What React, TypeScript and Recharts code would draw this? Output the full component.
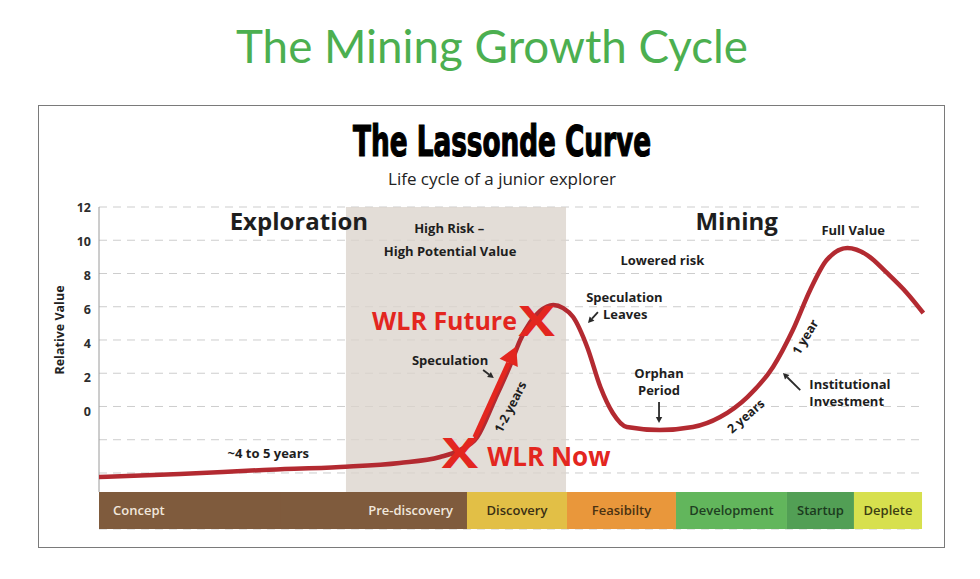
import React from 'react';
import {
  ComposedChart,
  Line,
  XAxis,
  YAxis,
  CartesianGrid,
  ReferenceArea,
  ReferenceLine,
  ReferenceDot,
} from 'recharts';

// ---------- data ----------
const curveTime = [0, 9.8, 19.9, 29.2, 36.4, 41.3, 43.7, 45.8, 47.9, 49.8, 51.0, 53.4, 55.0, 56.2, 57.4, 59.1, 60.7, 62.2, 63.9, 67.9, 71.9, 75.2, 78.5, 81.6, 84.0, 86.1, 88.1, 90.6, 93.0, 95.4, 97.8, 99.8];
const curveValue = [-4.24, -4.06, -3.82, -3.64, -3.4, -3.04, -2.62, -1.83, 0.39, 2.5, 4.0, 5.74, 6.11, 5.92, 5.38, 3.58, 1.17, -0.39, -1.23, -1.41, -1.23, -0.63, 0.57, 2.38, 4.6, 7.01, 8.81, 9.53, 9.11, 8.03, 6.83, 5.62];

const yTicks = [-4, -2, 0, 2, 4, 6, 8, 10, 12];
const yLabelled = [0, 2, 4, 6, 8, 10, 12];
const yDomain = [-7.37, 12];
const xDomain = [0, 100];

const phaseNames = ['Concept', 'Pre-discovery', 'Discovery', 'Feasibilty', 'Development', 'Startup', 'Deplete'];
const phaseStart = [0, 22, 44.55, 56.66, 69.85, 83.29, 91.4];
const phaseEnd = [44.55, 44.55, 56.66, 69.85, 83.29, 91.4, 99.64];
const phaseBandTop = -5.14;

const shadeStart = 29.9;
const shadeEnd = 56.54;

const headingTexts = ['Exploration', 'Mining'];
const headingX = [24.2, 77.2];
const headingY = [11.16, 11.16];

const noteTexts = ['High Risk –', 'High Potential Value', 'Full Value', 'Lowered risk', 'Speculation', 'Leaves', 'Speculation', 'Orphan', 'Period', '~4 to 5 years'];
const noteX = [42.4, 42.5, 91.3, 68.2, 63.6, 63.7, 42.5, 67.8, 67.8, 20.5];
const noteY = [10.74, 9.35, 10.62, 8.81, 6.58, 5.56, 2.79, 2.01, 0.99, -2.8];

const leftNoteTexts = ['Institutional', 'Investment'];
const leftNoteX = [86.0, 86.0];
const leftNoteY = [1.35, 0.33];

const durationTexts = ['1-2 years', '2 years', '1 year'];
const durationX = [49.8, 78.3, 85.5];
const durationY = [-0.03, -0.58, 4.18];
const durationAngle = [-63, -41, -59];

const arrowFromX = [60.4, 46.5, 67.8, 84.9];
const arrowFromY = [5.68, 2.19, 0.27, 0.99];
const arrowToX = [59.2, 47.8, 67.8, 82.8];
const arrowToY = [5.02, 1.71, -1.0, 2.01];

const wlrArrowFrom = { x: 45.5, y: -1.86 };
const wlrArrowTo = { x: 50.5, y: 3.61 };

const markerX = [43.7, 53.0];
const markerY = [-2.74, 5.2];
const wlrTexts = ['WLR Now', 'WLR Future'];
const wlrX = [47.0, 50.6];
const wlrY = [-2.98, 5.2];
const wlrAnchor = ['start', 'end'];

// ---------- styles ----------
const phaseFill = ['#7f5b3d', '#7f5b3d', '#e2bf46', '#e9973b', '#62b65c', '#529f55', '#d7e04e'];
const phaseText = ['#f1e7dc', '#f1e7dc', '#3a2f14', '#4a3212', '#1f3f22', '#1b3a1e', '#3c3d12'];
const phasePos: any[] = ['insideLeft', 'insideRight', 'center', 'center', 'center', 'center', 'center'];
const RED = '#e3261f';
const CURVE = '#b32a31';
const FONT = "'Open Sans', 'DejaVu Sans', sans-serif";

const curveData = curveTime.map((t, i) => ({ x: t, y: curveValue[i] }));

const makeText =
  (text: string, opts: any) =>
  (p: any) => {
    let transform: string | undefined;
    if (opts.rotate) transform = `rotate(${opts.rotate} ${p.cx} ${p.cy})`;
    if (opts.stretch) transform = `translate(${p.cx} ${p.cy}) scale(${opts.stretch} 1) translate(${-p.cx} ${-p.cy})`;
    return (
      <text
        x={p.cx}
        y={p.cy}
        textAnchor={opts.anchor || 'middle'}
        dominantBaseline="central"
        fontFamily={FONT}
        fontSize={opts.size}
        fontWeight={opts.weight || 700}
        fill={opts.color || '#1e1e1e'}
        transform={transform}
      >
        {text}
      </text>
    );
  };

const makeArrow =
  (color: string, width: number, head: number, headW: number) =>
  (p: any) => {
    const { x1, y1, x2, y2 } = p;
    const ang = Math.atan2(y2 - y1, x2 - x1);
    const hx = x2 - head * Math.cos(ang);
    const hy = y2 - head * Math.sin(ang);
    const px = -Math.sin(ang) * headW;
    const py = Math.cos(ang) * headW;
    return (
      <g>
        <line x1={x1} y1={y1} x2={hx} y2={hy} stroke={color} strokeWidth={width} strokeLinecap="butt" />
        <polygon points={`${x2},${y2} ${hx + px},${hy + py} ${hx - px},${hy - py}`} fill={color} />
      </g>
    );
  };

const YTick = (props: any) => {
  const { x, y, payload } = props;
  const v = payload.value;
  if (!yLabelled.includes(v)) return <g />;
  const dy = (12 - v) * 0.42 + 4.5;
  return (
    <text x={x} y={y + dy} textAnchor="end" fontFamily={FONT} fontSize={12.5} fontWeight={700} fill="#2d2d2d">
      {v}
    </text>
  );
};

export default function App() {
  return (
    <div style={{ position: 'fixed', left: 0, top: 0, width: 980, height: 579, background: '#fff', overflow: 'hidden' }}>
      <svg width={980} height={579} style={{ position: 'absolute', left: 0, top: 0 }}>
        <text x={492} y={63} textAnchor="middle" fontFamily="Lato, 'Open Sans', sans-serif" fontSize={46} fill="#4caf50" textLength={512} lengthAdjust="spacingAndGlyphs">
          The Mining Growth Cycle
        </text>
        <rect x={38.5} y={105.5} width={906} height={442} fill="none" stroke="#7a7a7a" strokeWidth={1} />
        <text x={502} y={156} textAnchor="middle" fontFamily="'DejaVu Sans Condensed', 'Liberation Sans Narrow', sans-serif" fontWeight={700} fontSize={42} fill="#000" stroke="#000" strokeWidth={1.2} textLength={298} lengthAdjust="spacingAndGlyphs">
          The Lassonde Curve
        </text>
        <text x={502} y={185} textAnchor="middle" fontFamily={FONT} fontSize={17} fill="#222">
          Life cycle of a junior explorer
        </text>
        <text x={59} y={330} textAnchor="middle" dominantBaseline="central" fontFamily={FONT} fontSize={12.5} fontWeight={700} fill="#222" transform="rotate(-90 59 330)">
          Relative Value
        </text>
      </svg>
      <div style={{ position: 'absolute', left: 0, top: 0 }}>
        <ComposedChart width={980} height={579} margin={{ top: 207, right: 55, bottom: 50, left: 59 }} style={{ fontFamily: FONT }}>
          <CartesianGrid vertical={false} stroke="#cdcdcd" strokeDasharray="8 6" />
          <XAxis type="number" dataKey="x" domain={xDomain} hide allowDataOverflow />
          <YAxis type="number" domain={yDomain} ticks={yTicks} width={40} axisLine={false} tickLine={false} tick={<YTick />} interval={0} allowDataOverflow />
          <ReferenceArea x1={shadeStart} x2={shadeEnd} y1={phaseBandTop} y2={12} fill="#dbd4cc" fillOpacity={0.78} stroke="none" />
          {phaseNames.map((n, i) => (
            <ReferenceArea
              key={n}
              x1={phaseStart[i]}
              x2={phaseEnd[i]}
              y1={yDomain[0]}
              y2={phaseBandTop}
              fill={phaseFill[i]}
              fillOpacity={1}
              stroke="none"
              label={{ value: n, position: phasePos[i], offset: 14, fill: phaseText[i], fontSize: 13, fontWeight: 600, fontFamily: FONT }}
            />
          ))}
          <ReferenceLine segment={[{ x: 0, y: 12 }, { x: 0, y: phaseBandTop }]} stroke="#9a9a9a" strokeWidth={1} />
          <Line data={curveData} dataKey="y" type="monotone" stroke={CURVE} strokeWidth={4.5} dot={false} isAnimationActive={false} />
          {arrowFromX.map((fx, i) => (
            <ReferenceLine
              key={'a' + i}
              segment={[{ x: fx, y: arrowFromY[i] }, { x: arrowToX[i], y: arrowToY[i] }]}
              shape={makeArrow('#2a2a2a', 1.8, 6, 3.2)}
              zIndex={450}
            />
          ))}
          <ReferenceLine
            segment={[wlrArrowFrom, wlrArrowTo]}
            shape={makeArrow(RED, 5, 18, 10)}
            zIndex={460}
          />
          {headingTexts.map((t, i) => (
            <ReferenceDot key={t} x={headingX[i]} y={headingY[i]} r={1} shape={makeText(t, { size: 24 })} />
          ))}
          {noteTexts.map((t, i) => (
            <ReferenceDot key={'n' + i} x={noteX[i]} y={noteY[i]} r={1} shape={makeText(t, { size: 13 })} />
          ))}
          {leftNoteTexts.map((t, i) => (
            <ReferenceDot key={'l' + i} x={leftNoteX[i]} y={leftNoteY[i]} r={1} shape={makeText(t, { size: 13, anchor: 'start' })} />
          ))}
          {durationTexts.map((t, i) => (
            <ReferenceDot key={'d' + i} x={durationX[i]} y={durationY[i]} r={1} shape={makeText(t, { size: 12.5, rotate: durationAngle[i] })} />
          ))}
          {markerX.map((mx, i) => (
            <ReferenceDot key={'m' + i} x={mx} y={markerY[i]} r={1} shape={makeText('X', { size: 42, color: RED, stretch: 1.3 })} zIndex={700} />
          ))}
          {wlrTexts.map((t, i) => (
            <ReferenceDot key={'w' + i} x={wlrX[i]} y={wlrY[i]} r={1} shape={makeText(t, { size: i === 0 ? 26 : 25, color: RED, anchor: wlrAnchor[i] })} zIndex={700} />
          ))}
        </ComposedChart>
      </div>
    </div>
  );
}
